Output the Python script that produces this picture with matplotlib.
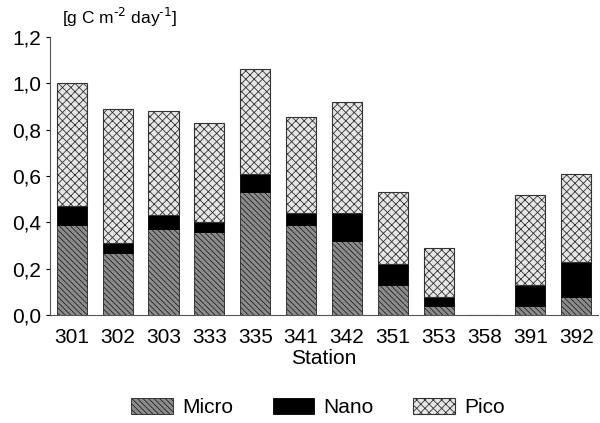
import matplotlib
matplotlib.use("Agg")
import matplotlib.pyplot as plt
import numpy as np

plt.rcParams['font.family'] = ['Liberation Sans', 'DejaVu Sans']
plt.rcParams['hatch.linewidth'] = 0.6

stations = ['301', '302', '303', '333', '335', '341', '342', '351', '353', '358', '391', '392']
micro = [0.39, 0.27, 0.37, 0.36, 0.53, 0.39, 0.32, 0.13, 0.04, 0.0, 0.04, 0.08]
nano = [0.08, 0.04, 0.06, 0.04, 0.08, 0.05, 0.12, 0.09, 0.04, 0.0, 0.09, 0.15]
pico = [0.53, 0.58, 0.45, 0.43, 0.45, 0.415, 0.48, 0.31, 0.21, 0.0, 0.39, 0.38]

x = np.arange(len(stations))
micro = np.array(micro)
nano = np.array(nano)
pico = np.array(pico)

fig = plt.figure(figsize=(6.0, 4.23), dpi=100)
ax = fig.add_axes([0.083, 0.255, 0.914, 0.658])

w = 0.66
ax.bar(x, micro, w, color='#8c8c8c', edgecolor='#222222', hatch='\\\\\\\\\\\\', linewidth=0.6, label='Micro')
ax.bar(x, nano, w, bottom=micro, color='black', edgecolor='black', linewidth=0.6, label='Nano')
ax.bar(x, pico, w, bottom=micro + nano, color='#e6e6e6', edgecolor='#333333', hatch='xxxx', linewidth=0.8, label='Pico')

ax.set_xlim(-0.48, 11.48)
ax.set_ylim(0, 1.2)
ax.set_yticks(np.arange(0, 1.21, 0.2))
ax.set_yticklabels([f'{v:.1f}'.replace('.', ',') for v in np.arange(0, 1.21, 0.2)])
ax.set_xticks(x)
ax.set_xticklabels(stations)
ax.tick_params(axis='both', labelsize=15, length=3, width=0.8)
ax.tick_params(axis='y', pad=3)
ax.tick_params(axis='x', length=0, pad=9)
ax.spines['top'].set_visible(False)
ax.spines['right'].set_visible(False)
ax.spines['left'].set_color('#555555')
ax.spines['bottom'].set_color('#555555')

ax.set_xlabel('Station', fontsize=15, labelpad=2)
fig.text(0.103, 0.958, r'[g C m$^{\text{-}2}$ day$^{\text{-}1}$]', fontsize=12.5, ha='left', va='center')

fig.legend(loc='lower center', bbox_to_anchor=(0.53, -0.03), ncol=3, frameon=False,
           fontsize=15, handlelength=2.0, handleheight=0.8, columnspacing=1.9, handletextpad=0.45)

fig.savefig('out.png', dpi=100)
